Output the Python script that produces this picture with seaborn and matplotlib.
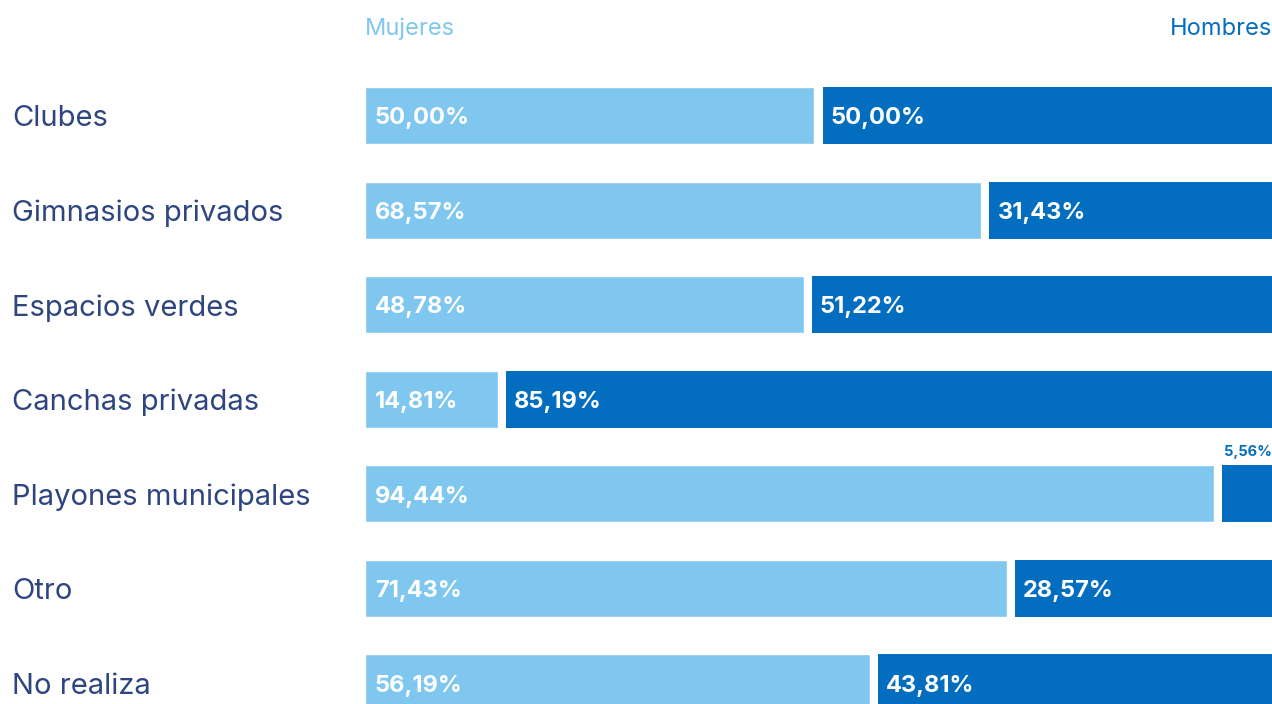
import matplotlib
matplotlib.use("Agg")
import matplotlib.pyplot as plt
import seaborn as sns
import pandas as pd

categories = ["Clubes", "Gimnasios privados", "Espacios verdes", "Canchas privadas",
              "Playones municipales", "Otro", "No realiza"]
mujeres = [50.00, 68.57, 48.78, 14.81, 94.44, 71.43, 56.19]
hombres = [50.00, 31.43, 51.22, 85.19, 5.56, 28.57, 43.81]

LIGHT = "#80C7EF"
DARK = "#036EC0"
NAVY = "#2E4580"
GAP = 0.89  # white separator between the two segments, in % units

sns.set_style("white")
plt.rcParams["font.family"] = ["Inter", "DejaVu Sans"]

df = pd.DataFrame({"categoria": categories, "mujeres": mujeres, "hombres": hombres})

fig = plt.figure(figsize=(12.72, 7.04), dpi=100)
ax = fig.add_axes([365 / 1272, 0, 907 / 1272, 1])

sns.barplot(data=df, x="mujeres", y="categoria", color=LIGHT, width=0.603,
            saturation=1, orient="h", ax=ax)
ax.barh(range(len(df)), df["hombres"], left=df["mujeres"] + GAP, height=0.603,
        color=DARK, linewidth=0)

ax.set_xlim(0, 100 + GAP)
ax.set_ylim(6.222, -1.221)
ax.axis("off")

fmt = lambda v: f"{v:.2f}%".replace(".", ",")
for i, row in df.iterrows():
    ax.text(1.1, i + 0.03, fmt(row["mujeres"]), color="white", fontsize=17,
            fontweight="bold", va="center", ha="left")
    if row["hombres"] > 10:
        ax.text(row["mujeres"] + GAP + 0.9, i + 0.03, fmt(row["hombres"]), color="white",
                fontsize=17, fontweight="bold", va="center", ha="left")
    else:
        ax.text(100 + GAP, i - 0.44, fmt(row["hombres"]), color=DARK, fontsize=10.5,
                fontweight="bold", va="center", ha="right")
    fig.text(12 / 1272, 1 - (119 + i * 94.58) / 704, row["categoria"], color=NAVY,
             fontsize=21, va="center", ha="left")

fig.text(365 / 1272, 1 - 29 / 704, "Mujeres", color=LIGHT, fontsize=17,
         va="center", ha="left")
fig.text(1.0, 1 - 29 / 704, "Hombres", color=DARK, fontsize=17,
         va="center", ha="right")

plt.savefig("out.png", dpi=100)
plt.close()
